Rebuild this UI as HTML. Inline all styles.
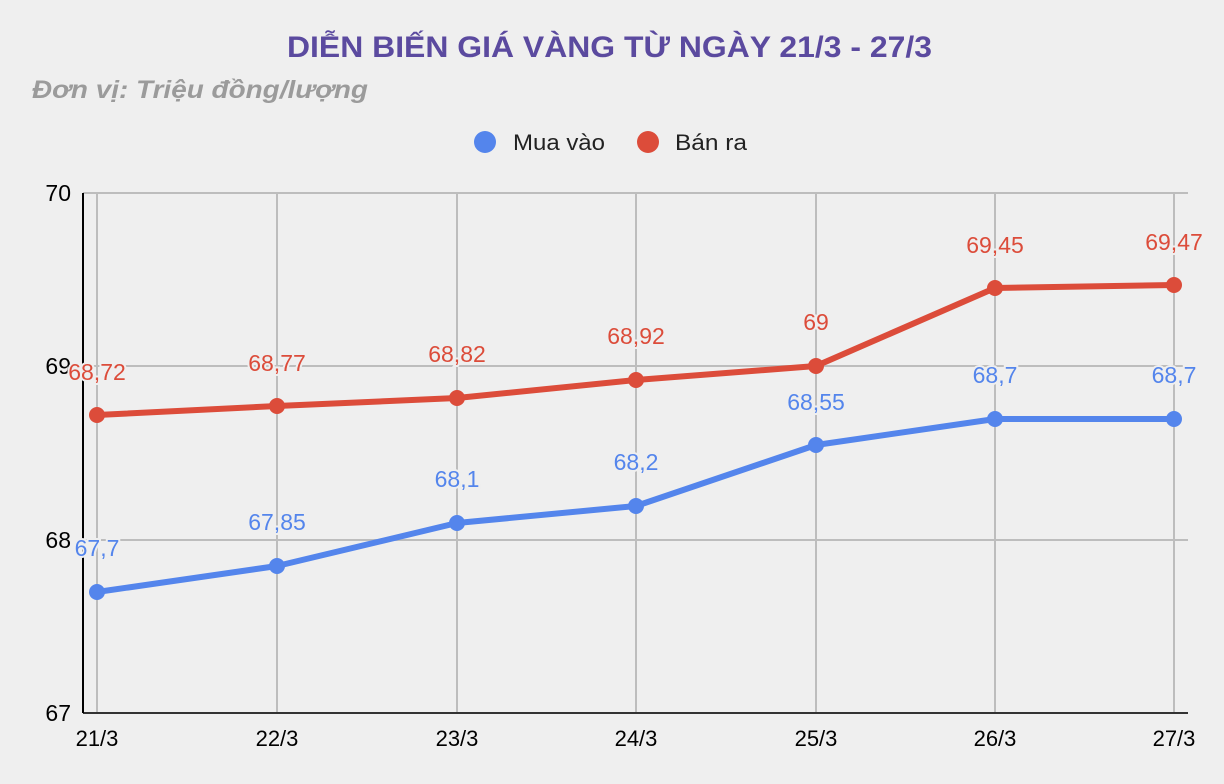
<!DOCTYPE html>
<html><head><meta charset="utf-8"><style>
html,body{margin:0;padding:0;background:#efefef;}
svg{display:block;font-family:"Liberation Sans",Arial,sans-serif;}
</style></head><body>
<svg width="1224" height="784" viewBox="0 0 1224 784">
<rect width="1224" height="784" fill="#efefef"/>
<text x="287" y="57" font-size="30" font-weight="bold" fill="#5b4a9f" textLength="645" lengthAdjust="spacingAndGlyphs">DIỄN BIẾN GIÁ VÀNG TỪ NGÀY 21/3 - 27/3</text>
<text x="32" y="98" font-size="25" font-weight="bold" font-style="italic" fill="#9b9b9b" textLength="336" lengthAdjust="spacingAndGlyphs">Đơn vị: Triệu đồng/lượng</text>
<circle cx="485" cy="142" r="11" fill="#5485ec"/>
<text x="513" y="150" font-size="22" fill="#222" textLength="92" lengthAdjust="spacingAndGlyphs">Mua vào</text>
<circle cx="648" cy="142" r="11" fill="#dc4c3a"/>
<text x="675" y="150" font-size="22" fill="#222" textLength="72" lengthAdjust="spacingAndGlyphs">Bán ra</text>
<g stroke="#bdbdbd" stroke-width="2">
<line x1="83" y1="193" x2="1188" y2="193"/>
<line x1="83" y1="366" x2="1188" y2="366"/>
<line x1="83" y1="540" x2="1188" y2="540"/>
<line x1="97" y1="193" x2="97" y2="713"/>
<line x1="277" y1="193" x2="277" y2="713"/>
<line x1="457" y1="193" x2="457" y2="713"/>
<line x1="636" y1="193" x2="636" y2="713"/>
<line x1="816" y1="193" x2="816" y2="713"/>
<line x1="995" y1="193" x2="995" y2="713"/>
<line x1="1174" y1="193" x2="1174" y2="713"/>
</g>
<line x1="83" y1="713" x2="1188" y2="713" stroke="#333" stroke-width="2"/>
<line x1="83" y1="193" x2="83" y2="713" stroke="#000" stroke-width="2"/>
<g font-size="23" fill="#000" text-anchor="end">
<text x="71" y="201">70</text><text x="71" y="374">69</text><text x="71" y="548">68</text><text x="71" y="721">67</text>
</g>
<g font-size="22" fill="#000" text-anchor="middle">
<text x="97" y="746">21/3</text><text x="277" y="746">22/3</text><text x="457" y="746">23/3</text><text x="636" y="746">24/3</text><text x="816" y="746">25/3</text><text x="995" y="746">26/3</text><text x="1174" y="746">27/3</text>
</g>
<polyline fill="none" stroke="#5485ec" stroke-width="6" stroke-linejoin="round" points="97,592 277,566 457,523 636,506 816,445 995,419 1174,419"/>
<polyline fill="none" stroke="#dc4c3a" stroke-width="6" stroke-linejoin="round" points="97,415 277,406 457,398 636,380 816,366 995,288 1174,285"/>
<g fill="#5485ec"><circle cx="97" cy="592" r="8"/><circle cx="277" cy="566" r="8"/><circle cx="457" cy="523" r="8"/><circle cx="636" cy="506" r="8"/><circle cx="816" cy="445" r="8"/><circle cx="995" cy="419" r="8"/><circle cx="1174" cy="419" r="8"/></g>
<g fill="#dc4c3a"><circle cx="97" cy="415" r="8"/><circle cx="277" cy="406" r="8"/><circle cx="457" cy="398" r="8"/><circle cx="636" cy="380" r="8"/><circle cx="816" cy="366" r="8"/><circle cx="995" cy="288" r="8"/><circle cx="1174" cy="285" r="8"/></g>
<g font-size="23" text-anchor="middle" fill="#5485ec" stroke="#efefef" stroke-width="4" paint-order="stroke">
<text x="97" y="556">67,7</text><text x="277" y="530">67,85</text><text x="457" y="487">68,1</text><text x="636" y="470">68,2</text><text x="816" y="410">68,55</text><text x="995" y="383">68,7</text><text x="1174" y="383">68,7</text>
</g>
<g font-size="23" text-anchor="middle" fill="#dc4c3a" stroke="#efefef" stroke-width="4" paint-order="stroke">
<text x="97" y="380">68,72</text><text x="277" y="371">68,77</text><text x="457" y="362">68,82</text><text x="636" y="344">68,92</text><text x="816" y="330">69</text><text x="995" y="253">69,45</text><text x="1174" y="250">69,47</text>
</g>
</svg>
</body></html>
